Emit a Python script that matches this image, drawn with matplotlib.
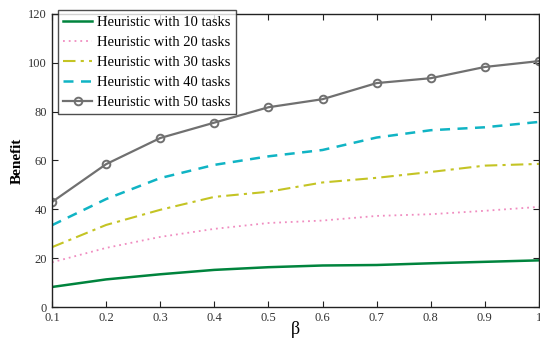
import matplotlib
matplotlib.use("Agg")
import matplotlib.pyplot as plt

plt.rcParams['font.family'] = ['Liberation Serif', 'DejaVu Serif']
plt.rcParams['mathtext.fontset'] = 'stix'

beta = [0.1, 0.2, 0.3, 0.4, 0.5, 0.6, 0.7, 0.8, 0.9, 1.0]
tasks10 = [8.2, 11.3, 13.4, 15.2, 16.3, 17.0, 17.2, 17.9, 18.5, 19.1]
tasks20 = [18.3, 24.2, 28.7, 32.0, 34.4, 35.4, 37.3, 38.0, 39.4, 41.0]
tasks30 = [24.5, 33.6, 39.8, 45.1, 47.2, 51.0, 52.9, 55.3, 57.9, 58.6]
tasks40 = [33.5, 44.2, 52.8, 58.2, 61.7, 64.3, 69.4, 72.4, 73.6, 75.8]
tasks50 = [43.0, 58.5, 69.2, 75.5, 81.8, 85.1, 91.7, 93.7, 98.3, 100.7]
labels = ["Heuristic with 10 tasks", "Heuristic with 20 tasks",
          "Heuristic with 30 tasks", "Heuristic with 40 tasks",
          "Heuristic with 50 tasks"]

fig = plt.figure(figsize=(5.4, 3.41), dpi=100)
ax = fig.add_axes([0.0963, 0.0997, 0.9017, 0.8593])

ax.plot(beta, tasks10, color='#00843d', lw=1.8, ls='-', label=labels[0])
ax.plot(beta, tasks20, color='#f08cc0', lw=1.3, ls=(0, (1, 2.2)), label=labels[1])
ax.plot(beta, tasks30, color='#c4c424', lw=1.5, ls=(0, (6, 2.5, 1.5, 2.5)), label=labels[2])
ax.plot(beta, tasks40, color='#10b4c4', lw=1.8, ls=(0, (4, 3)), label=labels[3])
ax.plot(beta, tasks50, color='#707070', lw=1.6, ls='-', marker='o', ms=5.5,
        mfc='none', mew=1.4, label=labels[4])

ax.set_xlim(0.1, 1.0)
ax.set_ylim(0, 120)
ax.set_xticks(beta)
ax.set_xticklabels(['0.1', '0.2', '0.3', '0.4', '0.5', '0.6', '0.7', '0.8', '0.9', '1'])
ax.set_yticks([0, 20, 40, 60, 80, 100, 120])
ax.tick_params(direction='in', top=True, right=True, labelsize=9, length=4, width=0.8,
               colors='#222222', labelcolor='#333333')
for s in ax.spines.values():
    s.set_linewidth(1.0)
    s.set_color('#222222')

ax.set_xlabel('β', fontsize=13, labelpad=-2)
ax.set_ylabel('Benefit', fontsize=11, fontweight='bold', labelpad=3)

leg = ax.legend(loc='upper left', bbox_to_anchor=(0.012, 1.012), fontsize=10.5,
                frameon=True, fancybox=False, edgecolor='#222222',
                handlelength=2.0, handletextpad=0.35, borderpad=0.35,
                labelspacing=0.47, borderaxespad=0.0)
leg.get_frame().set_linewidth(1.0)

fig.savefig('out.png', dpi=100)
